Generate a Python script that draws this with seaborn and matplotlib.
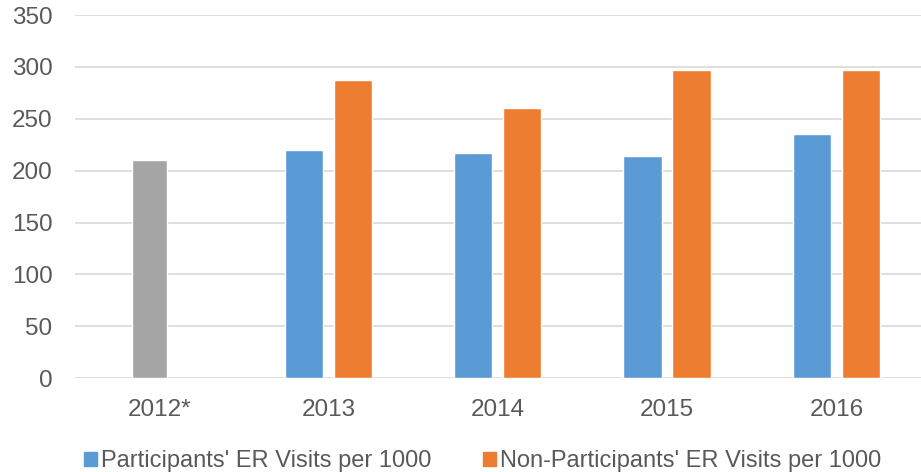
import matplotlib
matplotlib.use('Agg')
import matplotlib.pyplot as plt
import seaborn as sns
import pandas as pd
from matplotlib.patches import Patch

# %% Data
years = ['2012*', '2013', '2014', '2015', '2016']
participants = [210, 220, 217, 214, 235]
non_participants = [None, 287, 260, 297, 297]
series_names = ["Participants' ER Visits per 1000",
                "Non-Participants' ER Visits per 1000"]

BLUE = '#5B9BD5'
ORANGE = '#ED7D31'
GRAY = '#A5A5A5'
TEXT = '#595959'

df = pd.DataFrame({
    'year': years * 2,
    'value': participants + non_participants,
    'series': [series_names[0]] * len(years) + [series_names[1]] * len(years),
})

sns.set_style('white')
plt.rcParams['font.family'] = ['Liberation Sans', 'DejaVu Sans']

fig = plt.figure(figsize=(9.21, 4.72), dpi=100)
ax = fig.add_axes([0.081, 0.199, 0.919, 0.769])

sns.barplot(data=df, x='year', y='value', hue='series', order=years,
            hue_order=series_names, palette=[BLUE, ORANGE],
            width=0.58, gap=0.22, ax=ax, legend=False, saturation=1)

# first year is shown as a single gray bar, a bit closer to the centre
first = ax.patches[0]
first.set_facecolor(GRAY)
first.set_width(first.get_width() * 0.9)
first.set_x(first.get_x() + 0.1)

ax.set_ylim(0, 350)
ax.set_yticks(range(0, 351, 50))
ax.set_xlim(-0.5, len(years) - 0.5)
ax.yaxis.grid(True, color='#D9D9D9', linewidth=1.2)
ax.set_axisbelow(True)
sns.despine(ax=ax, left=True, bottom=True)
ax.tick_params(axis='both', length=0, labelsize=17.5, colors=TEXT)
ax.tick_params(axis='x', pad=15)
ax.tick_params(axis='y', pad=16)
ax.set_xlabel('')
ax.set_ylabel('')

handles = [Patch(color=BLUE), Patch(color=ORANGE)]
fig.legend(handles, series_names, loc='lower center', ncol=2,
           bbox_to_anchor=(0.524, -0.045), frameon=False, fontsize=17,
           labelcolor=TEXT, handlelength=0.55, handleheight=0.55,
           handletextpad=0.15, columnspacing=2.2)

fig.savefig('out.png', dpi=100)
